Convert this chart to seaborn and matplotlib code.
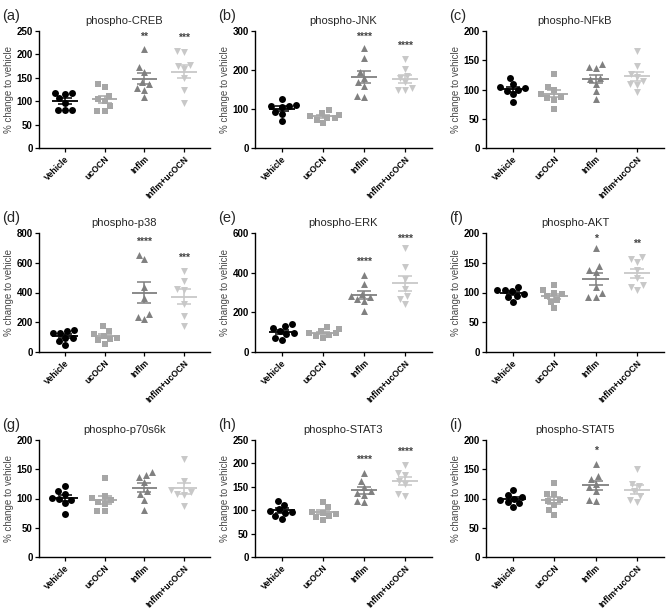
import numpy as np
import pandas as pd
import matplotlib
matplotlib.use("Agg")
import matplotlib.pyplot as plt
import seaborn as sns

sns.set_theme(style="ticks")
plt.rcParams['font.family'] = ['Liberation Sans', 'DejaVu Sans']

# ---------------- data ----------------
groups = ["Vehicle", "ucOCN", "Inflm", "Inflm+ucOCN"]
group_colors = ["#000000", "#a6a6a6", "#808080", "#c8c8c8"]
group_markers = ["o", "s", "^", "v"]

titles = ["phospho-CREB", "phospho-JNK", "phospho-NFkB",
          "phospho-p38", "phospho-ERK", "phospho-AKT",
          "phospho-p70s6k", "phospho-STAT3", "phospho-STAT5"]
panel_letters = ["(a)", "(b)", "(c)", "(d)", "(e)", "(f)", "(g)", "(h)", "(i)"]
y_max = [250, 300, 200, 800, 600, 200, 200, 250, 200]
y_step = [50, 100, 50, 200, 200, 50, 50, 50, 50]

creb = [[118, 116, 118, 106, 97, 82, 82, 82],
        [137, 131, 112, 105, 100, 90, 80, 80],
        [212, 173, 162, 140, 137, 128, 125, 110],
        [207, 205, 178, 175, 168, 150, 125, 97]]
jnk = [[125, 110, 108, 108, 106, 93, 88, 70],
       [97, 91, 85, 82, 78, 78, 73, 64],
       [257, 232, 195, 180, 168, 160, 134, 130],
       [228, 202, 185, 180, 168, 155, 150, 150]]
nfkb = [[120, 109, 104, 102, 100, 98, 92, 79],
        [127, 105, 100, 92, 88, 85, 82, 66],
        [143, 138, 136, 120, 118, 110, 97, 84],
        [165, 141, 127, 121, 114, 110, 107, 95]]
p38 = [[150, 138, 128, 125, 95, 92, 72, 45],
       [172, 142, 118, 108, 97, 85, 78, 56],
       [654, 625, 438, 366, 254, 236, 220],
       [546, 479, 422, 416, 321, 243, 175]]
erk = [[139, 130, 122, 105, 97, 90, 72, 63],
       [125, 114, 105, 97, 96, 88, 80, 71],
       [388, 342, 292, 283, 275, 266, 258, 207],
       [524, 427, 368, 317, 283, 266, 241]]
akt = [[110, 105, 104, 103, 97, 94, 93, 84],
       [112, 104, 99, 97, 94, 88, 84, 74],
       [174, 145, 137, 135, 110, 99, 93, 92],
       [160, 157, 152, 138, 125, 112, 110, 105]]
p70s6k = [[122, 113, 108, 101, 100, 97, 92, 73],
          [135, 105, 101, 97, 94, 91, 79, 79],
          [145, 141, 136, 128, 113, 108, 98, 80],
          [167, 130, 114, 111, 108, 106, 88]]
stat3 = [[120, 112, 102, 99, 97, 95, 88, 82],
         [118, 106, 97, 95, 92, 88, 85, 80],
         [180, 162, 149, 140, 137, 133, 120, 118],
         [197, 180, 176, 162, 155, 134, 131]]
stat5 = [[115, 106, 103, 100, 97, 94, 92, 86],
         [127, 108, 107, 97, 95, 89, 80, 72],
         [159, 139, 134, 125, 119, 113, 98, 96],
         [151, 124, 122, 113, 105, 97, 94]]
panel_data = [creb, jnk, nfkb, p38, erk, akt, p70s6k, stat3, stat5]

significance = [["", "", "**", "***"],
                ["", "", "****", "****"],
                ["", "", "", ""],
                ["", "", "****", "***"],
                ["", "", "****", "****"],
                ["", "", "*", "**"],
                ["", "", "", ""],
                ["", "", "****", "****"],
                ["", "", "*", ""]]

# ---------------- layout ----------------
W, H = 667, 612
fig = plt.figure(figsize=(W / 100, H / 100), dpi=100)
col_left = [39, 255, 486]
col_right = [210, 432, 664]
row_top = [31, 233, 440]
row_bottom = [148, 352, 557]

for idx in range(9):
    r, c = divmod(idx, 3)
    l, rr = col_left[c], col_right[c]
    t, b = row_top[r], row_bottom[r]
    ax = fig.add_axes([l / W, 1 - b / H, (rr - l) / W, (b - t) / H])

    rows = []
    for g, vals in zip(groups, panel_data[idx]):
        for v in vals:
            rows.append((g, v))
    df = pd.DataFrame(rows, columns=["group", "value"])

    for gi, g in enumerate(groups):
        sub = df[df["group"] == g]
        sns.swarmplot(data=sub, x="group", y="value", order=groups,
                      color=group_colors[gi], marker=group_markers[gi],
                      size=5.0, ax=ax, zorder=2)
        vals = sub["value"].to_numpy(dtype=float)
        m = vals.mean()
        se = vals.std(ddof=1) / np.sqrt(len(vals))
        ax.hlines(m, gi - 0.32, gi + 0.32, color=group_colors[gi], lw=1.3, zorder=3)
        ax.errorbar(gi, m, yerr=se, fmt="none", ecolor=group_colors[gi],
                    elinewidth=1.1, capsize=5, capthick=1.1, zorder=3)
        s = significance[idx][gi]
        if s:
            ypos = min(vals.max() + 0.11 * y_max[idx], 0.95 * y_max[idx])
            ax.text(gi, ypos, s, ha="center", va="center", fontsize=7.5,
                    fontweight="bold", color="#444444")

    ax.set_xlim(-0.65, 3.65)
    ax.set_ylim(0, y_max[idx])
    ax.set_yticks(np.arange(0, y_max[idx] + 1, y_step[idx]))
    ax.set_xticks(range(4))
    ax.set_xticklabels(groups, rotation=45, ha="right", rotation_mode="anchor",
                       fontsize=6.3, fontweight="bold")
    for lab in ax.get_yticklabels():
        lab.set_fontweight("bold")
        lab.set_fontsize(7)
    ax.tick_params(axis="both", length=3, width=0.9, pad=1.5, colors="black")
    ax.set_xlabel("")
    ax.set_ylabel("% change to vehicle", fontsize=7, color="#4a4a4a", labelpad=2)
    ax.set_title(titles[idx], fontsize=8, pad=5)
    for sp in ["top", "right"]:
        ax.spines[sp].set_visible(False)
    for sp in ["left", "bottom"]:
        ax.spines[sp].set_linewidth(1.0)
        ax.spines[sp].set_color("black")

    fig.text((col_left[c] - 37) / W, 1 - (row_top[r] - 22) / H, panel_letters[idx],
             fontsize=10.5, va="top", ha="left")

fig.savefig("out.png", dpi=100, facecolor="white")
